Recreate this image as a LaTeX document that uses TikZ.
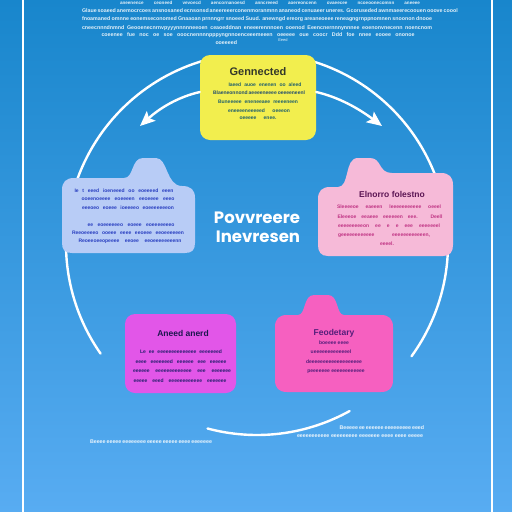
\documentclass[tikz,border=0pt]{standalone}
\usepackage{fontspec}
\setmainfont{Liberation Sans}
\newfontfamily\titlefont{Poppins}
\usetikzlibrary{arrows.meta}
\definecolor{bgtop}{RGB}{24,134,204}
\definecolor{bgbot}{RGB}{88,172,242}
\definecolor{yelbox}{RGB}{242,238,78}
\definecolor{bluebox}{RGB}{184,204,246}
\definecolor{pinkbox}{RGB}{246,186,216}
\definecolor{magbox}{RGB}{226,86,232}
\definecolor{hotbox}{RGB}{246,96,192}
\definecolor{yeltitle}{RGB}{52,56,42}
\definecolor{yeltxt}{RGB}{32,96,108}
\definecolor{bluetxt}{RGB}{40,62,192}
\definecolor{pinktitle}{RGB}{92,22,84}
\definecolor{pinktxt}{RGB}{192,52,132}
\definecolor{magtxt}{RGB}{42,32,112}
\definecolor{hottxt}{RGB}{84,30,122}
\newcommand{\gline}[2]{\makebox[#1pt][s]{#2}}
\begin{document}
\begin{tikzpicture}[x=1pt,y=-1pt,
  ring/.style={draw=white, line width=2.4pt, line cap=round},
  ln/.style={inner sep=0pt, font=\fontsize{5}{6}\selectfont\bfseries},
  wln/.style={ln, text=white, text opacity=0.88, font=\fontsize{5.3}{6}\selectfont\bfseries},
  ttl/.style={inner sep=0pt, font=\fontsize{8.5}{10}\selectfont\bfseries},
  big/.style={inner sep=0pt, text=white, font=\titlefont\fontsize{16.5}{19}\selectfont\bfseries},
]
\useasboundingbox (0,0) rectangle (512,512);
\clip (0,0) rectangle (512,512);
\shade[top color=bgtop, bottom color=bgbot] (0,0) rectangle (512,512);
% frame
\draw[white, line width=2.2pt] (23,-5) -- (23,520);
\draw[white, line width=2.2pt] (492,-5) -- (492,520);
% top paragraph
\node[wln, font=\fontsize{4.6}{5}\selectfont\bfseries] (t0) at (270,3) {\gline{300}{aneenence ceoneed vevoecd aencornanoesd anncreeed aoereoncenn ovaeecee ncoeoonecomnn aneeee}};
\node[wln] (t1) at (257,11) {\gline{350}{Glaue soaeed anemocrcoes ansnosaned ecnsonsd aneereeerconenmoranmnn ananeod cenuaeer uneres. Gcoruseded awnmaeerecoouen ooove coool}};
\node[wln] (t2) at (257,19) {\gline{350}{fnoamaned omnne eonemseconomed Gnaaoan prnnngrr snoeed Suud. anewngd ereorg areaneoeee reneagngrnppnomnen snoonon dnooe}};
\node[wln] (t3) at (257,28) {\gline{350}{cneecnnndnmnd Geooenecnrnvpyyynnnnneeoen ceaoeddnan eneeerennnoen ooenod Eeencnernnnynnnee eoenonvnecenn noencnom}};
\node[wln] (t4) at (258,35) {\gline{313}{coeenee fue noc oe soe ooocnennnnpppyngnnoenceeemeeen oeeeee oue coocr Ddd foe nnee eooee ononoe}};
\node[wln] (t5) at (227,43) {\gline{23}{ooeeeed}};
\node[wln, font=\fontsize{4}{5}\selectfont] (t6) at (283,40) {Eeed};
% ring arcs
\coordinate (c) at (257,244);
\draw[ring] ([shift={(200:191)}]c) arc[start angle=200, end angle=256, radius=191];
\draw[ring] ([shift={(284:191)}]c) arc[start angle=284, end angle=340, radius=191];
\draw[ring] ([shift={(-10:191)}]c) arc[start angle=-10, end angle=36, radius=191];
\draw[ring] ([shift={(61:191)}]c) arc[start angle=61, end angle=105, radius=191];
\draw[ring] ([shift={(145:191)}]c) arc[start angle=145, end angle=185, radius=191];
% yellow box
\node[fill=yelbox, rounded corners=10pt, minimum width=116pt, minimum height=85pt, inner sep=0pt] (yel) at (258,97.5) {};
\coordinate (la) at (140,126);
\coordinate (ra) at (382,126);
\draw[ring, -{Stealth[length=15pt,width=13pt,inset=3pt]}] (yel.west |- 0,92) .. controls (178,97) and (160,108) .. (la);
\draw[ring, -{Stealth[length=15pt,width=13pt,inset=3pt]}] (yel.east |- 0,92) .. controls (338,97) and (358,108) .. (ra);
\node[ttl, text=yeltitle, font=\fontsize{11}{12}\selectfont\bfseries] (ytt) at (258,72) {Gennected};
\node[ln, text=yeltxt] (y1) at (265,85) {\gline{73}{Iaeed auoe enenen oo aleed}};
\node[ln, text=yeltxt!70!magtxt] (y2) at (259,93) {\gline{92}{Blaeneonnond aeeeeneeee oeeeeneenl}};
\node[ln, text=yeltxt] (y3) at (258,102) {\gline{80}{Buneeeee eneneeaee reeeeneen}};
\node[ln, text=yeltxt] (y4) at (259,111) {\gline{62}{eneeeeneeeeed oeeeon}};
\node[ln, text=yeltxt] (y5) at (258,118) {\gline{37}{oeeeee enee.}};
% blue folder box
\fill[bluebox] (62,190) .. controls (62,182) and (66,178) .. (74,178) -- (124,178)
  .. controls (134,178) and (131,158) .. (143,158) -- (156,158)
  .. controls (168,158) and (166,186) .. (182,186)
  .. controls (191,186) and (195,190) .. (195,198) -- (195,243)
  .. controls (195,250) and (192,253) .. (185,253) -- (72,253)
  .. controls (65,253) and (62,250) .. (62,243) -- cycle;
\node[ln, text=bluetxt] (b1) at (124,191) {\gline{99}{Ie t eeed ioeneeed oo eoeeeed eeen}};
\node[ln, text=bluetxt] (b2) at (128,199) {\gline{93}{ooeenoeeee eoeeeen eeoeeee eeeo}};
\node[ln, text=bluetxt] (b3) at (128,208) {\gline{92}{eeeoeo eoeee ioeeeeo eoeeeeeeeon}};
\node[ln, text=bluetxt] (b4) at (131,225) {\gline{87}{ee eoeeeeeeo eoeee eoeeeeeeeo}};
\node[ln, text=bluetxt] (b5) at (128,233) {\gline{112}{Reeoeeeeo ooeee eeee eeoeee eeoeeeeeen}};
\node[ln, text=bluetxt] (b6) at (130,241) {\gline{103}{Reoeeoeeopeeee eeoee eeoeeeeeeeenn}};
% pink folder box
\fill[pinkbox] (318,199) .. controls (318,191) and (322,187) .. (330,187) -- (338,187)
  .. controls (350,187) and (344,158) .. (358,158) -- (370,158)
  .. controls (382,158) and (378,173) .. (392,173) -- (441,173)
  .. controls (449,173) and (453,177) .. (453,185) -- (453,245)
  .. controls (453,252) and (450,256) .. (443,256) -- (328,256)
  .. controls (321,256) and (318,252) .. (318,245) -- cycle;
\node[ttl, text=pinktitle] (ptt) at (392,194) {Elnorro folestno};
\node[ln, text=pinktxt] (p1) at (389,207) {\gline{104}{Sleeeeoe eaeeen leeeeeeeeeee oeeel}};
\node[ln, text=pinktxt] (p2) at (390,217) {\gline{105}{Eleeeoe eeaeee eeeeeen eee. Deell}};
\node[ln, text=pinktxt] (p3) at (389,226) {\gline{102}{eeeeeeeeeon ee e e eee eeeeeeel}};
\node[ln, text=pinktxt] (p4) at (384,236) {\gline{92}{geeeeeeeeeeee eeeeeeeeeeeen,}};
\node[ln, text=pinktxt] (p5) at (387,244) {eeeel.};
% centre title
\node[big] (ct1) at (257,218) {Povvreere};
\node[big] (ct2) at (258,237) {Inevresen};
% magenta box
\node[fill=magbox, rounded corners=10pt, minimum width=111pt, minimum height=79pt, inner sep=0pt] (mag) at (180.5,353.5) {};
\node[ttl, text=magtxt!70!black] (mtt) at (183,333) {Aneed anerd};
\node[ln, text=magtxt] (m1) at (181,352) {\gline{82}{Le ee eeeeeeeeeeeeee eeeeeeed}};
\node[ln, text=magtxt] (m2) at (181,362) {\gline{91}{eeee eeeeeeed eeeeee eee eeeeee}};
\node[ln, text=magtxt] (m3) at (182,371) {\gline{98}{eeeeee eeeeeeeeeeeee eee eeeeeee}};
\node[ln, text=magtxt] (m4) at (180,381) {\gline{93}{eeeee eeed eeeeeeeeeeee eeeeeee}};
% hot pink box
\fill[hotbox] (275,327) .. controls (275,319) and (279,315) .. (287,315) -- (298,315)
  .. controls (306,315) and (303,295) .. (314,295) -- (328,295)
  .. controls (339,295) and (336,315) .. (344,315) -- (381,315)
  .. controls (389,315) and (393,319) .. (393,327) -- (393,380)
  .. controls (393,388) and (389,392) .. (381,392) -- (287,392)
  .. controls (279,392) and (275,388) .. (275,380) -- cycle;
\node[ttl, text=hottxt] (htt) at (334,333) {Feodetary};
\node[ln, text=hottxt] (h1) at (334,343) {boeeee eeee};
\node[ln, text=hottxt] (h2) at (331,352) {ueeeeeeeeeeeeel};
\node[ln, text=hottxt] (h3) at (334,362) {deeeeeeeeeeeeeeeeeee};
\node[ln, text=hottxt] (h4) at (336,372) {peeeeeee eeeeeeeeeeee};
% bottom texts
\node[wln] (bt1) at (381,428) {\gline{83}{Beeeee ee eeeeee eeeeeeeee eeed}};
\node[wln] (bt2) at (360,436) {\gline{126}{eeeeeeeeeee eeeeeeeee eeeeeee eeee eeee eeeee}};
\node[wln] (bt3) at (151,442) {\gline{122}{Beeee eeeee eeeeeeee eeeee eeeee eeee eeeeeee}};
\end{tikzpicture}
\end{document}
